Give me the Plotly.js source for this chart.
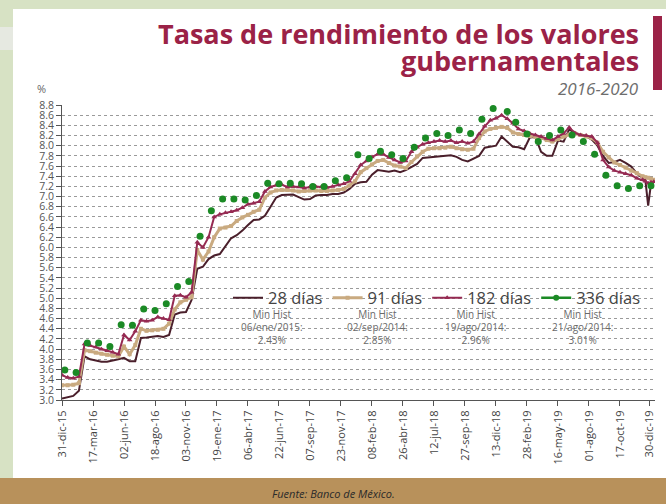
<!DOCTYPE html>
<html><head><meta charset="utf-8">
<script src="https://cdn.plot.ly/plotly-3.0.1.min.js"></script>
<style>html,body{margin:0;padding:0;background:#fff}#chart{width:666px;height:504px}</style>
</head><body><div id="chart"></div>
<script>
const dates = ['2015-12-31','2016-01-14','2016-01-28','2016-02-11','2016-02-25','2016-03-10','2016-03-24','2016-04-07','2016-04-21','2016-05-05','2016-05-19','2016-06-02','2016-06-16','2016-06-30','2016-07-14','2016-07-28','2016-08-11','2016-08-25','2016-09-08','2016-09-22','2016-10-06','2016-10-20','2016-11-03','2016-11-17','2016-12-01','2016-12-15','2016-12-29',
'2017-01-12','2017-01-26','2017-02-09','2017-02-23','2017-03-09','2017-03-23','2017-04-06','2017-04-20','2017-05-04','2017-05-18','2017-06-01','2017-06-15','2017-06-29','2017-07-13','2017-07-27','2017-08-10','2017-08-24','2017-09-07','2017-09-21','2017-10-05','2017-10-19','2017-11-02','2017-11-16','2017-11-30','2017-12-14','2017-12-28',
'2018-01-11','2018-01-25','2018-02-08','2018-02-22','2018-03-08','2018-03-22','2018-04-05','2018-04-19','2018-05-03','2018-05-17','2018-05-31','2018-06-14','2018-06-28','2018-07-12','2018-07-26','2018-08-09','2018-08-23','2018-09-06','2018-09-20','2018-10-04','2018-10-18','2018-11-01','2018-11-15','2018-11-29','2018-12-13','2018-12-27',
'2019-01-10','2019-01-24','2019-02-07','2019-02-21','2019-03-07','2019-03-21','2019-04-04','2019-04-18','2019-05-02','2019-05-16','2019-05-30','2019-06-13','2019-06-27','2019-07-11','2019-07-25','2019-08-08','2019-08-22','2019-09-05','2019-09-19','2019-10-03','2019-10-17','2019-10-31','2019-11-14','2019-11-28','2019-12-12','2019-12-19','2019-12-26','2020-01-02','2020-01-09'];

const cetes28 = [3.03,3.05,3.08,3.18,3.86,3.80,3.77,3.75,3.75,3.77,3.80,3.83,3.76,3.76,4.22,4.23,4.25,4.26,4.24,4.28,4.68,4.72,4.73,4.97,5.58,5.62,5.77,
5.84,5.87,6.02,6.18,6.24,6.33,6.44,6.54,6.55,6.62,6.80,6.98,7.03,7.03,7.04,6.99,6.94,6.95,7.02,7.03,7.03,7.05,7.05,7.08,7.15,7.25,
7.28,7.29,7.43,7.52,7.50,7.49,7.51,7.48,7.52,7.58,7.64,7.76,7.77,7.78,7.80,7.80,7.81,7.78,7.72,7.69,7.75,7.80,7.96,7.98,8.00,8.18,
8.08,7.98,7.97,7.93,8.16,8.17,7.88,7.80,7.80,8.10,8.08,8.32,8.25,8.22,8.19,8.12,8.00,7.80,7.66,7.68,7.72,7.66,7.59,7.45,7.38,7.33,6.82,7.25,7.28];

const cetes91 = [3.29,3.29,3.30,3.33,3.98,3.96,3.93,3.91,3.89,3.87,3.86,4.05,3.90,4.08,4.40,4.36,4.37,4.38,4.40,4.50,4.78,4.92,4.97,5.02,5.95,5.76,5.92,
6.20,6.37,6.39,6.42,6.52,6.59,6.64,6.70,6.74,6.98,7.08,7.12,7.13,7.13,7.12,7.10,7.11,7.12,7.12,7.11,7.11,7.12,7.13,7.15,7.22,7.30,
7.48,7.56,7.63,7.70,7.72,7.66,7.61,7.59,7.56,7.68,7.79,7.88,7.94,7.95,7.95,7.96,7.98,7.95,7.93,7.92,7.94,8.15,8.28,8.33,8.35,8.37,
8.35,8.26,8.23,8.21,8.19,8.17,8.16,8.11,8.08,8.13,8.18,8.22,8.24,8.21,8.18,8.15,8.06,7.88,7.77,7.67,7.62,7.57,7.51,7.46,7.40,7.38,7.37,7.35,7.33];

const cetes182 = [3.49,3.44,3.43,3.46,4.10,4.07,4.04,4.00,3.97,3.94,3.90,4.28,4.18,4.35,4.57,4.55,4.57,4.63,4.60,4.58,5.05,5.06,5.02,5.12,6.10,6.00,6.20,
6.60,6.65,6.68,6.70,6.73,6.78,6.85,6.87,6.90,7.10,7.19,7.22,7.23,7.19,7.20,7.19,7.17,7.19,7.20,7.19,7.18,7.20,7.23,7.25,7.30,7.45,
7.62,7.70,7.78,7.83,7.83,7.77,7.72,7.67,7.70,7.88,7.97,8.03,8.06,8.08,8.10,8.08,8.10,8.06,8.08,8.05,8.08,8.23,8.38,8.50,8.54,8.60,
8.53,8.44,8.33,8.29,8.24,8.21,8.18,8.14,8.11,8.18,8.24,8.36,8.25,8.21,8.20,8.18,8.06,7.72,7.58,7.51,7.48,7.45,7.42,7.36,7.33,7.30,7.26,7.28,7.29];

const dates336 = ['2016-01-07','2016-02-04','2016-03-03','2016-03-31','2016-04-28','2016-05-26','2016-06-23','2016-07-21','2016-08-18','2016-09-15','2016-10-13','2016-11-10','2016-12-08',
'2017-01-05','2017-02-02','2017-03-02','2017-03-30','2017-04-27','2017-05-25','2017-06-22','2017-07-20','2017-08-17','2017-09-14','2017-10-12','2017-11-09','2017-12-07',
'2018-01-04','2018-02-01','2018-03-01','2018-03-29','2018-04-26','2018-05-24','2018-06-21','2018-07-19','2018-08-16','2018-09-13','2018-10-11','2018-11-08','2018-12-06',
'2019-01-10','2019-01-31','2019-02-28','2019-03-28','2019-04-25','2019-05-23','2019-06-20','2019-07-18','2019-08-15','2019-09-12','2019-10-10','2019-11-07','2019-12-05','2020-01-02'];
const cetes336 = [3.59,3.54,4.12,4.12,4.05,4.48,4.47,4.79,4.76,4.89,5.23,5.33,6.22,
6.72,6.95,6.95,6.93,7.02,7.26,7.25,7.26,7.25,7.20,7.20,7.31,7.37,
7.82,7.75,7.89,7.82,7.75,7.97,8.15,8.24,8.20,8.31,8.24,8.52,8.73,
8.67,8.46,8.23,8.08,8.20,8.31,8.21,8.08,7.83,7.42,7.21,7.16,7.21,7.21];

const tickDates = ['2015-12-31','2016-03-17','2016-06-02','2016-08-18','2016-11-03','2017-01-19','2017-04-06','2017-06-22','2017-09-07','2017-11-23','2018-02-08','2018-04-26','2018-07-12','2018-09-27','2018-12-13','2019-02-28','2019-05-16','2019-08-01','2019-10-17','2019-12-30'];
const tickLabels = ['31-dic-15','17-mar-16','02-jun-16','18-ago-16','03-nov-16','19-ene-17','06-abr-17','22-jun-17','07-sep-17','23-nov-17','08-feb-18','26-abr-18','12-jul-18','27-sep-18','13-dic-18','28-feb-19','16-may-19','01-ago-19','17-oct-19','30-dic-19'];

const seriesNames = ['28 días','91 días','182 días','336 días'];
const minHistDates = ['06/ene/2015:','02/sep/2014:','19/ago/2014:','21/ago/2014:'];
const minHistValues = ['2.43%','2.85%','2.96%','3.01%'];

const C28 = '#4a1f2b', C91 = '#c9aa80', C182 = '#952a52', C336 = '#1b8a25';
const FONT = 'Open Sans, Lato, sans-serif';

// pixel helpers for decorations (plot area: x 62..655, y 105..400)
const PL = 62, PR = 655, PT = 105, PB = 400;
const px = v => (v - PL) / (PR - PL);
const py = v => (PB - v) / (PB - PT);

const traces = [
  {x: dates, y: cetes28, name: seriesNames[0], mode: 'lines', line: {color: C28, width: 2}},
  {x: dates, y: cetes91, name: seriesNames[1], mode: 'lines+markers', line: {color: C91, width: 3},
   marker: {symbol: 'square', size: 4, color: C91}},
  {x: dates, y: cetes182, name: seriesNames[2], mode: 'lines+markers', line: {color: C182, width: 2},
   marker: {symbol: 'triangle-up', size: 5, color: C182}},
  {x: dates336, y: cetes336, name: seriesNames[3], mode: 'markers', showlegend: false, legendgroup: 'g336',
   marker: {symbol: 'circle', size: 7, color: C336}, cliponaxis: false},
  {x: [null], y: [null], name: seriesNames[3], mode: 'lines+markers', legendgroup: 'g336',
   line: {color: C336, width: 2.5}, marker: {symbol: 'circle', size: 6, color: C336}}
];

const annotations = [
  {xref: 'paper', yref: 'paper', x: px(641), y: py(33), xanchor: 'right', yanchor: 'middle', showarrow: false,
   text: 'Tasas de rendimiento de los valores', font: {family: FONT, size: 27, color: '#9b2247', weight: 700}},
  {xref: 'paper', yref: 'paper', x: px(641), y: py(61), xanchor: 'right', yanchor: 'middle', showarrow: false,
   text: 'gubernamentales', font: {family: FONT, size: 27, color: '#9b2247', weight: 700}},
  {xref: 'paper', yref: 'paper', x: px(641), y: py(88), xanchor: 'right', yanchor: 'middle', showarrow: false,
   text: '2016-2020', font: {family: FONT, size: 17, color: '#6d6d6d', style: 'italic'}},
  {xref: 'paper', yref: 'paper', x: px(41), y: py(88), xanchor: 'center', yanchor: 'middle', showarrow: false,
   text: '%', font: {family: FONT, size: 11, color: '#666'}},
  {xref: 'paper', yref: 'paper', x: px(333), y: py(493), xanchor: 'center', yanchor: 'middle', showarrow: false,
   text: 'Fuente: Banco de México.', font: {family: FONT, size: 11, color: '#2a2a2a', style: 'italic'}}
];
const mhX = [272, 377, 475, 582];
for (let i = 0; i < 4; i++) {
  annotations.push({xref: 'paper', yref: 'paper', x: px(mhX[i]), y: py(327), xanchor: 'center', yanchor: 'middle',
    showarrow: false, text: 'Min Hist<br>' + minHistDates[i] + '<br>' + minHistValues[i],
    font: {family: FONT, size: 10, color: '#6a6a6a'}});
}

const shapes = [
  {type: 'rect', xref: 'paper', yref: 'paper', x0: px(0), x1: px(666), y0: py(0), y1: py(9), fillcolor: '#d7e2c4', line: {width: 0}, layer: 'below'},
  {type: 'rect', xref: 'paper', yref: 'paper', x0: px(0), x1: px(13), y0: py(0), y1: py(478), fillcolor: '#d7e2c4', line: {width: 0}, layer: 'below'},
  {type: 'rect', xref: 'paper', yref: 'paper', x0: px(0), x1: px(13), y0: py(27), y1: py(50), fillcolor: '#e6e9e1', line: {width: 0}, layer: 'below'},
  {type: 'rect', xref: 'paper', yref: 'paper', x0: px(0), x1: px(666), y0: py(478), y1: py(504), fillcolor: '#b8915b', line: {width: 0}, layer: 'below'},
  {type: 'rect', xref: 'paper', yref: 'paper', x0: px(653), x1: px(662), y0: py(16), y1: py(90), fillcolor: '#9b2247', line: {width: 0}, layer: 'below'}
];

const layout = {
  width: 666, height: 504,
  margin: {l: PL, r: 666 - PR, t: PT, b: 504 - PB},
  paper_bgcolor: '#ffffff', plot_bgcolor: 'rgba(0,0,0,0)',
  font: {family: FONT, color: '#444'},
  showlegend: true,
  legend: {orientation: 'h', x: px(228), y: py(298), xanchor: 'left', yanchor: 'middle',
    bgcolor: 'rgba(0,0,0,0)', font: {family: FONT, size: 16.5, color: '#444'}, itemwidth: 30, traceorder: 'normal'},
  xaxis: {type: 'date', range: ['2015-12-31', '2020-01-12'], tickmode: 'array', tickvals: tickDates, ticktext: tickLabels,
    tickangle: -90, tickfont: {family: FONT, size: 11, color: '#444'}, showgrid: false, zeroline: false,
    showline: true, linecolor: '#555', linewidth: 1, ticks: 'outside', ticklen: 5, tickcolor: '#555'},
  yaxis: {range: [3.0, 8.8], tick0: 3.0, dtick: 0.2, tickformat: '.1f', tickfont: {family: FONT, size: 10.5, color: '#555'},
    showgrid: true, gridcolor: '#9a9a9a', griddash: 'dot', gridwidth: 1, zeroline: false,
    showline: true, linecolor: '#555', linewidth: 1, ticks: 'outside', ticklen: 5, tickcolor: '#555'},
  annotations: annotations,
  shapes: shapes
};

Plotly.newPlot('chart', traces, layout, {displayModeBar: false, staticPlot: true});
</script></body></html>
